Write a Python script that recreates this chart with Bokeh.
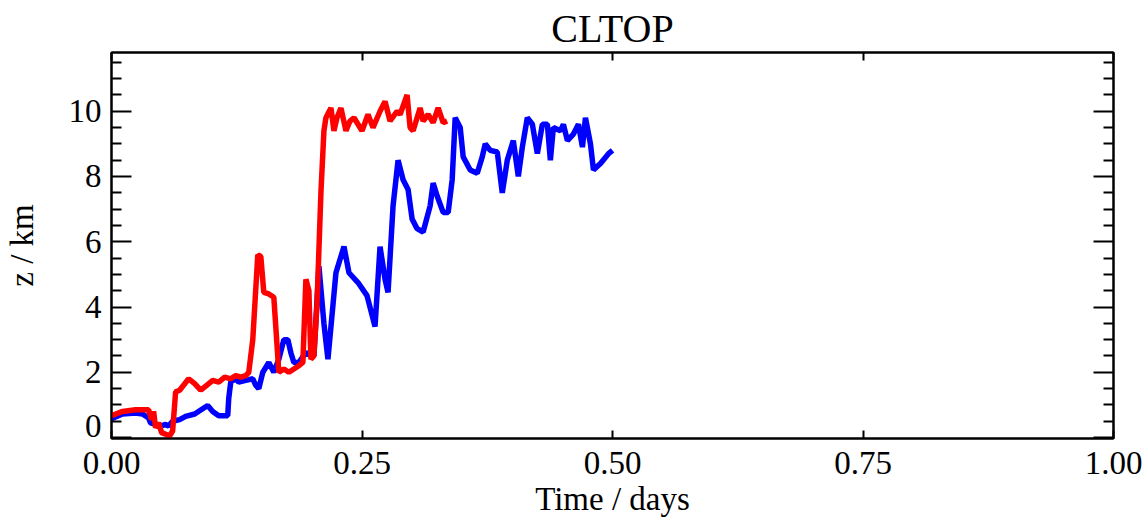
from bokeh.plotting import figure
from bokeh.models import Range1d, LinearAxis, FixedTicker, NumeralTickFormatter
from bokeh.embed import file_html
from bokeh.resources import INLINE

title_text = "CLTOP"
x_label = "Time / days"
y_label = "z / km"
x_ticks = [0.0, 0.25, 0.5, 0.75, 1.0]
y_ticks = [0, 2, 4, 6, 8, 10]
y_minor_ticks = [0.5, 1.0, 1.5, 2.5, 3.0, 3.5, 4.5, 5.0, 5.5, 6.5, 7.0, 7.5,
                 8.5, 9.0, 9.5, 10.5, 11.0, 11.5]
# tick label positions on the left (the bottom "0" sits a little above its tick, as in the original)
y_label_pos = [0.34, 2, 4, 6, 8, 10]
y_label_txt = ["0", "2", "4", "6", "8", "10"]

# red series
t_red = [0.000, 0.011, 0.024, 0.037, 0.040, 0.042, 0.044, 0.047, 0.050, 0.054,
         0.058, 0.061, 0.064, 0.068, 0.077, 0.083, 0.089, 0.095, 0.101, 0.107,
         0.113, 0.119, 0.124, 0.129, 0.134, 0.137, 0.141, 0.146, 0.149, 0.152,
         0.157, 0.162, 0.167, 0.172, 0.177, 0.182, 0.187, 0.191, 0.194, 0.197,
         0.199, 0.202, 0.205, 0.209, 0.212, 0.214, 0.219, 0.222, 0.225, 0.229,
         0.234, 0.238, 0.242, 0.246, 0.250, 0.256, 0.261, 0.268, 0.273, 0.278,
         0.285, 0.288, 0.295, 0.298, 0.301, 0.308, 0.311, 0.316, 0.321, 0.326,
         0.331, 0.335]
z_red = [0.67, 0.80, 0.85, 0.85, 0.55, 0.80, 0.30, 0.45, 0.15, 0.10,
         0.05, 0.20, 1.40, 1.45, 1.80, 1.65, 1.45, 1.60, 1.75, 1.70,
         1.85, 1.80, 1.90, 1.85, 1.90, 2.00, 3.00, 5.60, 5.55, 4.45,
         4.40, 4.30, 2.00, 2.10, 2.00, 2.10, 2.20, 2.30, 4.85, 4.50,
         2.40, 2.50, 4.00, 7.50, 9.40, 9.80, 10.10, 9.40, 9.80, 10.10,
         9.40, 9.70, 9.80, 9.60, 9.40, 9.90, 9.50, 10.00, 10.30, 9.70,
         10.00, 9.90, 10.50, 9.50, 9.40, 10.10, 9.70, 9.90, 9.65, 10.10,
         9.65, 9.70]

# blue series
t_blue = [0.000, 0.011, 0.024, 0.031, 0.037, 0.039, 0.044, 0.049, 0.054, 0.057,
          0.061, 0.068, 0.074, 0.083, 0.091, 0.096, 0.101, 0.107, 0.116, 0.117,
          0.119, 0.124, 0.127, 0.134, 0.141, 0.144, 0.147, 0.151, 0.157, 0.162,
          0.167, 0.172, 0.176, 0.179, 0.182, 0.187, 0.194, 0.202, 0.207, 0.212,
          0.216, 0.224, 0.232, 0.237, 0.246, 0.255, 0.263, 0.268, 0.273, 0.276,
          0.281, 0.286, 0.291, 0.296, 0.300, 0.305, 0.311, 0.318, 0.321, 0.325,
          0.331, 0.336, 0.340, 0.343, 0.348, 0.351, 0.358, 0.365, 0.370, 0.373,
          0.378, 0.385, 0.390, 0.395, 0.401, 0.406, 0.410, 0.415, 0.420, 0.425,
          0.430, 0.435, 0.438, 0.441, 0.448, 0.451, 0.455, 0.461, 0.466, 0.470,
          0.473, 0.478, 0.481, 0.488, 0.496, 0.500]
z_blue = [0.58, 0.72, 0.75, 0.72, 0.60, 0.45, 0.40, 0.35, 0.40, 0.35,
          0.50, 0.55, 0.65, 0.72, 0.88, 0.98, 0.80, 0.67, 0.67, 1.20,
          1.70, 1.80, 1.70, 1.75, 1.80, 1.60, 1.50, 2.00, 2.30, 2.00,
          2.40, 3.00, 3.00, 2.60, 2.30, 2.30, 2.60, 2.50, 5.25, 3.50,
          2.40, 5.05, 5.85, 5.05, 4.75, 4.35, 3.40, 5.85, 4.85, 4.45,
          7.10, 8.50, 7.90, 7.60, 6.70, 6.40, 6.30, 7.10, 7.80, 7.40,
          6.90, 6.90, 7.90, 9.80, 9.50, 8.60, 8.20, 8.10, 8.60, 9.00,
          8.80, 8.75, 7.50, 8.50, 9.10, 8.00, 8.90, 9.80, 9.60, 8.70,
          9.60, 9.60, 8.50, 9.50, 9.40, 9.60, 9.10, 9.30, 9.60, 8.90,
          9.80, 9.00, 8.20, 8.40, 8.70, 8.80]

FONT = "Liberation Serif"

p = figure(width=1148, height=522, x_range=Range1d(0, 1), y_range=Range1d(-0.03, 11.8),
           output_backend="svg", toolbar_location=None,
           min_border_left=111, min_border_right=35, min_border_top=52, min_border_bottom=84,
           title=title_text, x_axis_label=x_label)

p.xgrid.visible = False
p.ygrid.visible = False
p.outline_line_color = "black"
p.outline_line_width = 2
p.background_fill_color = "white"
p.border_fill_color = "white"

p.title.text_font = FONT
p.title.text_font_size = "40px"
p.title.text_font_style = "normal"
p.title.align = "center"
p.title.text_color = "black"
p.title.standoff = 3
p.title.offset = 0

xa = p.xaxis[0]
xa.ticker = FixedTicker(ticks=x_ticks, minor_ticks=[])
xa.formatter = NumeralTickFormatter(format="0.00")
xa.major_tick_in = 8
xa.major_tick_out = 0
xa.minor_tick_in = 0
xa.minor_tick_out = 0
xa.axis_line_width = 2
xa.axis_line_color = "black"
xa.major_tick_line_width = 2
xa.major_tick_line_color = "black"
xa.major_label_text_font = FONT
xa.major_label_text_font_size = "33px"
xa.major_label_text_color = "black"
xa.major_label_standoff = 13
xa.axis_label_text_font = FONT
xa.axis_label_text_font_size = "33px"
xa.axis_label_text_font_style = "normal"
xa.axis_label_text_color = "black"
xa.axis_label_standoff = 4

# inner left axis: tick marks only
ya = p.yaxis[0]
ya.ticker = FixedTicker(ticks=y_ticks, minor_ticks=y_minor_ticks)
ya.major_label_overrides = {t: "" for t in y_ticks}
ya.major_label_text_font_size = "1px"
ya.major_label_standoff = 0
ya.major_tick_in = 20
ya.major_tick_out = 0
ya.minor_tick_in = 10
ya.minor_tick_out = 0
ya.axis_line_width = 2
ya.axis_line_color = "black"
ya.major_tick_line_width = 2
ya.major_tick_line_color = "black"
ya.minor_tick_line_width = 2
ya.minor_tick_line_color = "black"

# outer left axis: tick labels and axis title, no marks
ylab = LinearAxis(ticker=FixedTicker(ticks=y_label_pos, minor_ticks=[]),
                  major_label_overrides=dict(zip(y_label_pos, y_label_txt)),
                  axis_line_color=None, major_tick_line_color=None, minor_tick_line_color=None,
                  major_tick_in=0, major_tick_out=0, minor_tick_in=0, minor_tick_out=0,
                  major_label_text_font=FONT, major_label_text_font_size="33px",
                  major_label_text_color="black",
                  major_label_standoff=10,
                  axis_label=y_label, axis_label_text_font=FONT,
                  axis_label_text_font_size="33px", axis_label_text_font_style="normal",
                  axis_label_text_color="black",
                  axis_label_standoff=26)
p.add_layout(ylab, "left")

top = LinearAxis(ticker=FixedTicker(ticks=x_ticks, minor_ticks=[]),
                 major_label_overrides={t: "" for t in x_ticks},
                 major_label_text_font_size="1px", major_label_standoff=0,
                 major_tick_in=8, major_tick_out=0, minor_tick_in=0, minor_tick_out=0,
                 axis_line_width=2, axis_line_color="black",
                 major_tick_line_width=2, major_tick_line_color="black")
p.add_layout(top, "above")

right = LinearAxis(ticker=FixedTicker(ticks=y_ticks, minor_ticks=y_minor_ticks),
                   major_label_overrides={t: "" for t in y_ticks},
                   major_label_text_font_size="1px", major_label_standoff=0,
                   major_tick_in=20, major_tick_out=0, minor_tick_in=10, minor_tick_out=0,
                   axis_line_width=2, axis_line_color="black",
                   major_tick_line_width=2, major_tick_line_color="black",
                   minor_tick_line_width=2, minor_tick_line_color="black")
p.add_layout(right, "right")

p.line(t_blue, z_blue, line_color="#0000ff", line_width=5.5)
p.line(t_red, z_red, line_color="#ff0000", line_width=5.5)

open("out.html", "w").write(file_html(p, INLINE))
